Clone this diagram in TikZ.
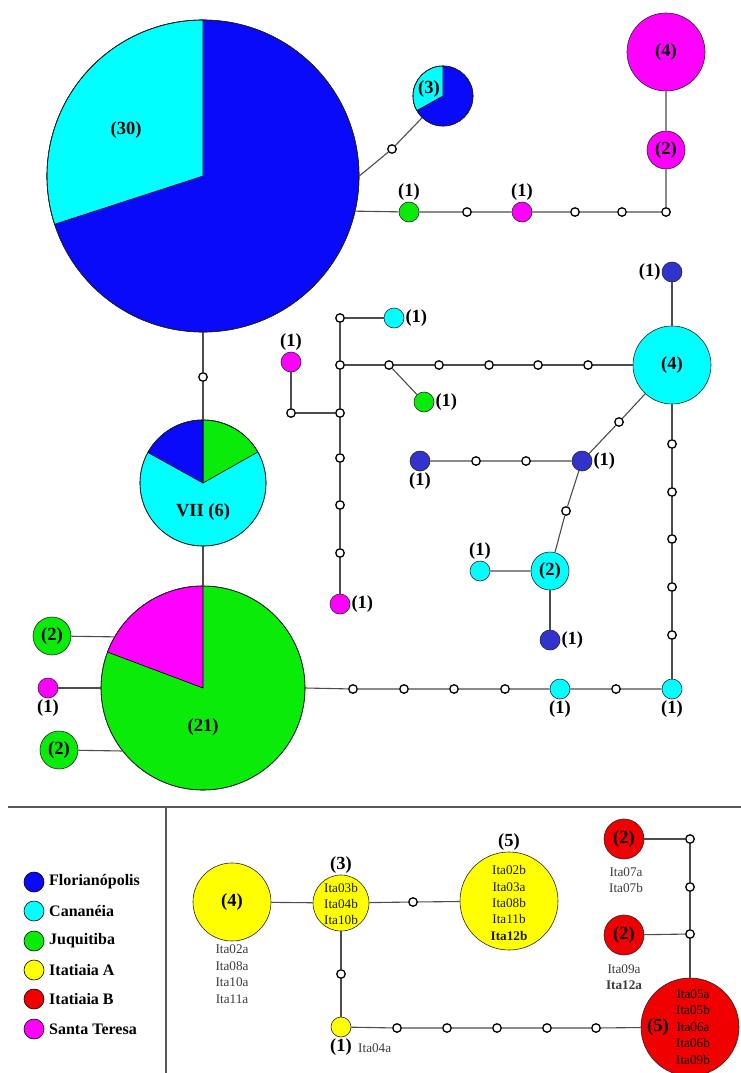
\documentclass[tikz,border=0pt]{standalone}
\usepackage{fontspec}
\setmainfont{Liberation Serif}
\definecolor{flor}{RGB}{10,10,250}
\definecolor{florS}{RGB}{50,50,205}
\definecolor{cana}{RGB}{0,255,255}
\definecolor{juq}{RGB}{10,235,10}
\definecolor{mag}{RGB}{255,0,255}
\definecolor{yel}{RGB}{255,255,0}
\definecolor{redc}{RGB}{240,0,0}
\definecolor{itagray}{RGB}{60,60,60}
\newcommand\lbf{\bfseries\fontsize{18.5}{18.5}\selectfont}
\newcommand\itaf{\fontsize{13.2}{16.4}\selectfont}
\newcommand\legf{\bfseries\fontsize{16}{16}\selectfont}
\begin{document}
\begin{tikzpicture}[x=1pt,y=-1pt,
  edge/.style={draw=black!70,line width=1.1pt},
  hol/.style={circle,draw=black,fill=white,line width=1.3pt,inner sep=0pt,minimum size=8.5pt},
  pop/.style={circle,draw=black!85,line width=0.6pt,inner sep=0pt,minimum size=#1pt,font=\lbf},
  sect/.style={draw=black,line width=0.6pt},
  lab/.style={font=\lbf,inner sep=1pt},
  txt/.style={font=\lbf,inner sep=0pt},
  ita/.style={font=\itaf,text=itagray,align=center,inner sep=0pt},
  leg/.style={font=\legf,anchor=west,inner sep=0pt},
  legc/.style={circle,draw=black,line width=0.6pt,inner sep=0pt,minimum width=20pt,minimum height=19pt},
  sep/.style={draw=black!65,line width=1.2pt}
]
\path[use as bounding box] (0,0) rectangle (741,1073);
\clip (0,0) rectangle (741,1073);
\fill[white] (0,0) rectangle (741,1073);

% ---------- pie sectors ----------
% big pie (30)
\filldraw[sect,fill=flor] (203,176) circle[radius=156];
\filldraw[sect,fill=cana] (203,176) -- ++(-90:156) arc[start angle=-90,end angle=-198,radius=156] -- cycle;
% pie (3)
\filldraw[sect,fill=flor] (443,96) circle[radius=30];
\filldraw[sect,fill=cana] (443,96) -- ++(-90:30) arc[start angle=-90,end angle=-209,radius=30] -- cycle;
% pie VII (6)
\filldraw[sect,fill=cana] (203,483) circle[radius=63];
\filldraw[sect,fill=juq] (203,483) -- ++(-90:63) arc[start angle=-90,end angle=-29.5,radius=63] -- cycle;
\filldraw[sect,fill=flor] (203,483) -- ++(-90:63) arc[start angle=-90,end angle=-151,radius=63] -- cycle;
% pie (21)
\filldraw[sect,fill=juq] (203,688) circle[radius=102];
\filldraw[sect,fill=mag] (203,688) -- ++(-90:102) arc[start angle=-90,end angle=-159.4,radius=102] -- cycle;

% ---------- population nodes ----------
\node[pop=312] (big) at (203,176) {};
\node[txt] (big30) at (126,130) {(30)};
\node[pop=60] (p3) at (443,96) {};
\node[txt] (p3l) at (429,89) {(3)};
\node[pop=126] (vii) at (203,483) {};
\node[txt] (viil) at (203,512) {VII (6)};
\node[pop=204] (g21) at (203,688) {};
\node[txt] (g21l) at (203,727) {(21)};

\node[pop=20,fill=juq,label={[lab]above:(1)}] (gA) at (409,212) {};
\node[pop=20,fill=mag,label={[lab]above:(1)}] (mA) at (522,212) {};
\node[pop=38,fill=mag] (m2) at (666,150) {(2)};
\node[pop=78,fill=mag] (m4) at (666,52) {(4)};

\node[pop=78,fill=cana] (c4) at (672,365) {(4)};
\node[pop=20,fill=florS,label={[lab]left:(1)}] (b1t) at (672,272) {};
\node[pop=20,fill=cana,label={[lab]right:(1)}] (cy1) at (394,318) {};
\node[pop=20,fill=mag,label={[lab]above:(1)}] (mgl) at (291,362) {};
\node[pop=20,fill=juq,label={[lab]right:(1)}] (gr1) at (424,402) {};
\node[pop=20,fill=florS,label={[lab]below:(1)}] (bl) at (420,461) {};
\node[pop=20,fill=florS,label={[lab]right:(1)}] (bm) at (582,461) {};
\node[pop=38,fill=cana] (c2) at (550,571) {(2)};
\node[pop=20,fill=cana,label={[lab]above:(1)}] (c1c) at (480,571) {};
\node[pop=20,fill=florS,label={[lab]right:(1)}] (b1c) at (550,640) {};
\node[pop=20,fill=mag,label={[lab]right:(1)}] (mg) at (340,604) {};
\node[pop=20,fill=cana,label={[lab]below:(1)}] (c1a) at (560,689) {};
\node[pop=20,fill=cana,label={[lab]below:(1)}] (c1b) at (672,689) {};
\node[pop=38,fill=juq] (g2a) at (52,636) {(2)};
\node[pop=20,fill=mag,label={[lab]below:(1)}] (m1) at (48,688) {};
\node[pop=38,fill=juq] (g2b) at (59,750) {(2)};

% ---------- hollow (missing) haplotypes ----------
\node[hol] (h1) at (392,149) {};
\node[hol] (t1) at (467,212) {};
\node[hol] (t2) at (575,212) {};
\node[hol] (t3) at (622,212) {};
\node[hol] (t4) at (666,212) {};
\node[hol] (hv) at (203,377) {};
\node[hol] (k1) at (588,365) {};
\node[hol] (k2) at (538,365) {};
\node[hol] (k3) at (489,365) {};
\node[hol] (k4) at (439,365) {};
\node[hol] (k5) at (389,365) {};
\node[hol] (j1) at (340,318) {};
\node[hol] (j2) at (340,365) {};
\node[hol] (j3) at (340,413) {};
\node[hol] (v1) at (340,458) {};
\node[hol] (v2) at (340,505) {};
\node[hol] (v3) at (340,553) {};
\node[hol] (jl) at (291,413) {};
\node[hol] (hd) at (619,422) {};
\node[hol] (hm1) at (526,461) {};
\node[hol] (hm2) at (476,461) {};
\node[hol] (hd2) at (566,511) {};
\node[hol] (r5) at (672,444) {};
\node[hol] (r4) at (672,492) {};
\node[hol] (r3) at (672,539) {};
\node[hol] (r2) at (672,587) {};
\node[hol] (r1) at (672,635) {};
\node[hol] (q1) at (353,689) {};
\node[hol] (q2) at (404,689) {};
\node[hol] (q3) at (454,689) {};
\node[hol] (q4) at (505,689) {};
\node[hol] (q5) at (616,689) {};

% ---------- connectors (top network) ----------
\draw[edge] (big.0) -- (h1) -- (p3);
\draw[edge] (big.-13.3) -- (gA) -- (t1) -- (mA) -- (t2) -- (t3) -- (t4) -- (m2) -- (m4);
\draw[edge] (big) -- (hv) -- (vii) -- (g21);
\draw[edge] (g2a) -- (g21.150);
\draw[edge] (m1) -- (g21.180);
\draw[edge] (g2b) -- (g21.218);
\draw[edge] (g21.0) -- (q1) -- (q2) -- (q3) -- (q4) -- (c1a) -- (q5) -- (c1b);
\draw[edge] (c1b) -- (r1) -- (r2) -- (r3) -- (r4) -- (r5) -- (c4) -- (b1t);
\draw[edge] (c4) -- (k1) -- (k2) -- (k3) -- (k4) -- (k5) -- (j2);
\draw[edge] (k5) -- (gr1);
\draw[edge] (j1) -- (j2) -- (j3) -- (v1) -- (v2) -- (v3) -- (mg);
\draw[edge] (j1) -- (cy1);
\draw[edge] (j3) -- (jl) -- (mgl);
\draw[edge] (c4) -- (hd) -- (bm) -- (hm1) -- (hm2) -- (bl);
\draw[edge] (bm) -- (hd2) -- (c2) -- (c1c);
\draw[edge] (c2) -- (b1c);

% ---------- separators ----------
\coordinate (sepL) at (8,807);
\coordinate (sepR) at (741,807);
\coordinate (sepT) at (166,807);
\coordinate (sepB) at (166,1073);
\draw[sep] (sepL) -- (sepR);
\draw[sep] (sepT) -- (sepB);

% ---------- legend ----------
\node[legc,fill=flor] (lg1) at (34,882) {};
\node[leg] (lt1) at (49,882) {Florianópolis};
\node[legc,fill=cana] (lg2) at (34,911) {};
\node[leg] (lt2) at (49,911) {Cananéia};
\node[legc,fill=juq] (lg3) at (34,941) {};
\node[leg] (lt3) at (49,941) {Juquitiba};
\node[legc,fill=yel] (lg4) at (34,970) {};
\node[leg] (lt4) at (49,970) {Itatiaia A};
\node[legc,fill=redc] (lg5) at (34,999) {};
\node[leg] (lt5) at (49,999) {Itatiaia B};
\node[legc,fill=mag] (lg6) at (34,1029) {};
\node[leg] (lt6) at (49,1029) {Santa Teresa};

% ---------- Itatiaia network ----------
\node[pop=78,fill=yel] (y4) at (232,902) {(4)};
\node[ita,anchor=north] (y4t) at (232,945) {Ita02a\\Ita08a\\Ita10a\\Ita11a};
\node[pop=56,fill=yel,label={[lab]above:(3)}] (y3) at (341,903) {};
\node[ita,text=black!90] (y3t) at (341,904) {Ita03b\\Ita04b\\Ita10b};
\node[pop=98,fill=yel,label={[lab]above:(5)}] (y5) at (509,901) {};
\node[ita,text=black!90] (y5t) at (509,903) {Ita02b\\Ita03a\\Ita08b\\Ita11b\\\textbf{Ita12b}};
\node[pop=20,fill=yel,label={[lab]below:(1)}] (y1) at (341,1027) {};
\node[ita,anchor=west] (y1t) at (358,1048) {Ita04a};
\node[pop=98,fill=redc] (R5) at (690,1027) {};
\node[txt] (R5l) at (658,1027) {(5)};
\node[ita,text=black] (R5t) at (693,1027) {Ita05a\\Ita05b\\Ita06a\\Ita06b\\Ita09b};
\node[pop=40,fill=redc] (R2a) at (624,839) {(2)};
\node[ita] (R2at) at (626,880) {Ita07a\\Ita07b};
\node[pop=40,fill=redc] (R2b) at (624,935) {(2)};
\node[ita] (R2bt) at (624,977) {Ita09a\\\textbf{Ita12a}};

\node[hol] (b1) at (413,902) {};
\node[hol] (b2) at (341,974) {};
\node[hol] (u1) at (397,1028) {};
\node[hol] (u2) at (447,1028) {};
\node[hol] (u3) at (497,1028) {};
\node[hol] (u4) at (547,1028) {};
\node[hol] (u5) at (596,1028) {};
\node[hol] (ha) at (690,934) {};
\node[hol] (hb) at (690,887) {};
\node[hol] (hc) at (690,839) {};

\draw[edge] (y4) -- (y3) -- (b1) -- (y5);
\draw[edge] (y3) -- (b2) -- (y1);
\draw[edge] (y1) -- (u1) -- (u2) -- (u3) -- (u4) -- (u5) -- (R5);
\draw[edge] (R5) -- (ha) -- (hb) -- (hc) -- (R2a);
\draw[edge] (ha) -- (R2b);
\end{tikzpicture}
\end{document}
